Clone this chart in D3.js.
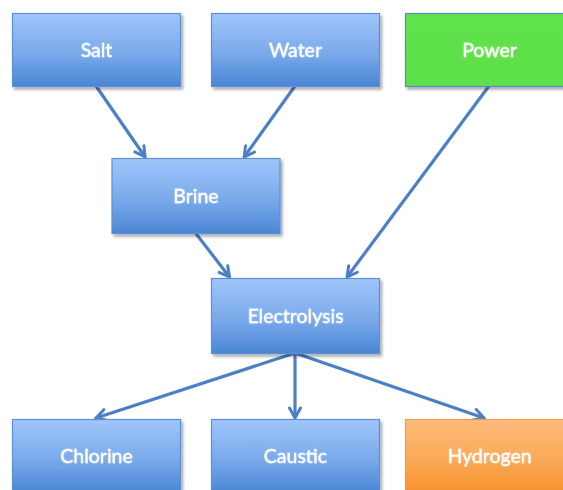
<!DOCTYPE html>
<html><head><meta charset="utf-8">
<script src="https://cdn.jsdelivr.net/npm/d3@7"></script>
<style>html,body{margin:0;padding:0;background:#fff;overflow:hidden}</style>
</head><body>
<svg id="c" width="563" height="490"></svg>
<script>
// ---- data ----
const nodeNames = ["Salt","Water","Power","Brine","Electrolysis","Chlorine","Caustic","Hydrogen"];
const nodeRows  = [0,0,0,1,2,3,3,3];
const nodeCols  = [0,1,2,0.5,1,0,1,2];
const nodeKinds = ["blue","blue","green","blue","blue","blue","blue","orange"];
const linkSources = ["Salt","Water","Power","Brine","Electrolysis","Electrolysis","Electrolysis"];
const linkTargets = ["Brine","Brine","Electrolysis","Electrolysis","Chlorine","Caustic","Hydrogen"];

// ---- layout ----
const W = 563, H = 490, boxW = 168;
const svg = d3.select("#c");
const x = d3.scaleLinear().domain([0,1,2]).range([12,211,405]);
const y = d3.scaleOrdinal().domain([0,1,2,3]).range([13,158,278,419]);
const hMap = d3.scaleOrdinal().domain([0,1,2,3]).range([73,75,75,73]);
// where each arrow lands on the target's top edge (fraction of width)
const attach = [0.2,0.79,0.81,0.11,0.5,0.5,0.47];

const defs = svg.append("defs");
function grad(id, c0, c1){
  const g = defs.append("linearGradient").attr("id",id).attr("x1",0).attr("y1",0).attr("x2",0).attr("y2",1);
  g.append("stop").attr("offset","0%").attr("stop-color",c0);
  g.append("stop").attr("offset","55%").attr("stop-color",d3.interpolateRgb(c0,c1)(0.45));
  g.append("stop").attr("offset","100%").attr("stop-color",c1);
}
grad("g-blue","#a0c6fb","#4a86d5");
grad("g-green","#60e24c","#5cdf48");
grad("g-orange","#fdbb7c","#f7922c");
const fill = d3.scaleOrdinal().domain(["blue","green","orange"]).range(["url(#g-blue)","url(#g-green)","url(#g-orange)"]);
const stroke = d3.scaleOrdinal().domain(["blue","green","orange"]).range(["#5d8fd3","#5a86c6","#f49a4c"]);

const sh = defs.append("filter").attr("id","sh").attr("x","-10%").attr("y","-10%").attr("width","130%").attr("height","130%");
sh.append("feDropShadow").attr("dx",2).attr("dy",2.5).attr("stdDeviation",1.6).attr("flood-color","#000").attr("flood-opacity",0.35);
const glow = defs.append("filter").attr("id","glow").attr("x","-20%").attr("y","-40%").attr("width","140%").attr("height","180%");
glow.append("feDropShadow").attr("dx",0).attr("dy",0).attr("stdDeviation",1).attr("flood-color","#ffffff").attr("flood-opacity",0.35);

defs.append("marker").attr("id","arr").attr("markerUnits","userSpaceOnUse")
  .attr("viewBox","0 0 14 14").attr("refX",12).attr("refY",7)
  .attr("markerWidth",14).attr("markerHeight",14).attr("orient","auto")
  .append("path").attr("d","M2,1.5 L12,7 L2,12.5").attr("fill","none")
  .attr("stroke","#4d7fc4").attr("stroke-width",3).attr("stroke-linejoin","miter").attr("stroke-linecap","round");

const nodes = nodeNames.map((n,i)=>({
  name:n, kind:nodeKinds[i],
  x: x(nodeCols[i]),
  y: y(nodeRows[i]),
  h: hMap(nodeRows[i])
}));
const byName = Object.fromEntries(nodes.map(d=>[d.name,d]));

// links
const links = linkSources.map((s,i)=>({s:byName[s], t:byName[linkTargets[i]], f:attach[i]}));
svg.append("g").selectAll("line").data(links).join("line")
  .attr("x1",d=>d.s.x+boxW/2).attr("y1",d=>d.s.y+d.s.h)
  .attr("x2",d=>d.t.x+boxW*d.f).attr("y2",d=>d.t.y-1)
  .attr("stroke","#4d7fc4").attr("stroke-width",3.2)
  .attr("marker-end","url(#arr)");

// nodes
const g = svg.append("g").selectAll("g").data(nodes).join("g")
  .attr("transform",d=>`translate(${d.x},${d.y})`);
g.append("rect").attr("x",0.5).attr("y",0.5).attr("width",boxW).attr("height",d=>d.h)
  .attr("fill",d=>fill(d.kind)).attr("stroke",d=>stroke(d.kind)).attr("stroke-width",1.2)
  .attr("filter","url(#sh)");
g.append("text").attr("x",boxW/2+0.5).attr("y",d=>d.h/2-0.5)
  .attr("text-anchor","middle").attr("dominant-baseline","central")
  .attr("font-family","Lato, 'Open Sans', sans-serif").attr("font-size",19.5).attr("font-weight",400)
  .attr("fill","#fff").attr("stroke","#fff").attr("stroke-width",0.35).attr("filter","url(#glow)")
  .text(d=>d.name);
</script>
</body></html>
